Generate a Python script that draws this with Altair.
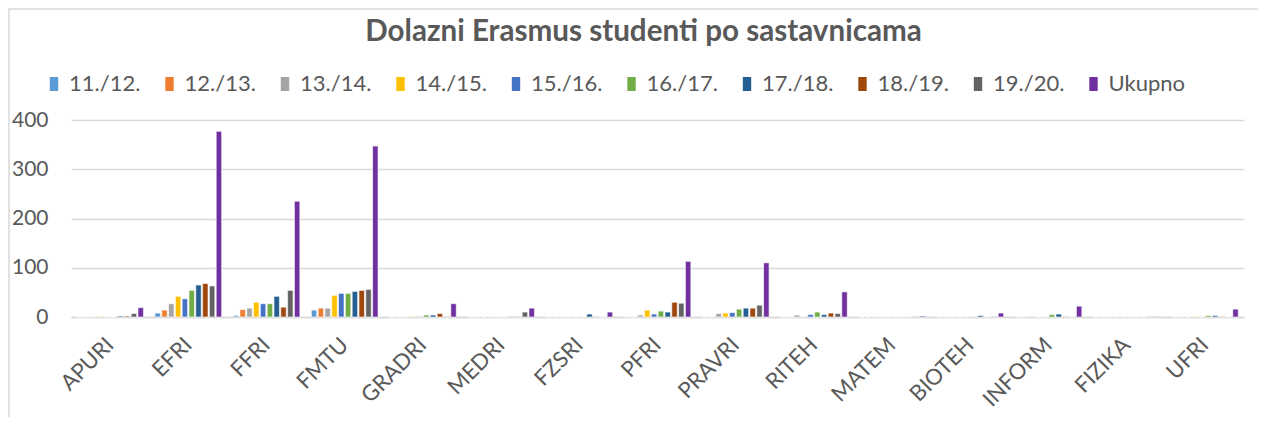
import altair as alt
import pandas as pd

categories = ["APURI", "EFRI", "FFRI", "FMTU", "GRADRI", "MEDRI", "FZSRI", "PFRI",
              "PRAVRI", "RITEH", "MATEM", "BIOTEH", "INFORM", "FIZIKA", "UFRI"]
series_names = ["11./12.", "12./13.", "13./14.", "14./15.", "15./16.", "16./17.",
                "17./18.", "18./19.", "19./20.", "Ukupno"]
colors = ["#5B9BD5", "#ED7D31", "#A5A5A5", "#FFC000", "#4472C4", "#70AD47",
          "#255E91", "#9E480E", "#636363", "#7030A0"]

s_1112 = [0, 8, 3, 14, 0, 0, 0, 0, 0, 0, 0, 0, 0, 0, 0]
s_1213 = [0, 14, 15, 18, 0, 0, 0, 0, 0, 0, 0, 0, 0, 0, 0]
s_1314 = [0, 27, 18, 18, 0, 0, 0, 4, 7, 4, 0, 0, 1, 0, 0]
s_1415 = [1, 42, 30, 44, 1, 0, 0, 14, 8, 1, 0, 0, 0, 0, 1]
s_1516 = [0, 37, 27, 48, 1, 0, 0, 6, 9, 5, 0, 0, 0, 0, 0]
s_1617 = [0, 54, 27, 48, 4, 0, 0, 12, 16, 10, 0, 1, 5, 0, 3]
s_1718 = [2, 65, 42, 52, 4, 1, 6, 10, 18, 5, 0, 3, 6, 0, 3]
s_1819 = [2, 68, 20, 54, 7, 1, 1, 30, 18, 8, 0, 0, 1, 0, 1]
s_1920 = [7, 63, 54, 56, 1, 10, 0, 28, 24, 7, 1, 1, 0, 1, 0]
ukupno = [19, 377, 235, 347, 27, 18, 10, 113, 110, 51, 2, 8, 22, 1, 16]

all_series = [s_1112, s_1213, s_1314, s_1415, s_1516, s_1617, s_1718, s_1819, s_1920, ukupno]

rows = []
for name, vals in zip(series_names, all_series):
    for c, v in zip(categories, vals):
        rows.append({"Sastavnica": c, "Godina": name, "Broj": v})
df = pd.DataFrame(rows)

FONT = "Lato"
GREY = "#595959"

bars = alt.Chart(df).mark_bar(stroke="white", strokeWidth=0.6).encode(
    x=alt.X("Sastavnica:N", sort=categories, title=None,
            scale=alt.Scale(paddingInner=0.147, paddingOuter=0.0735),
            axis=alt.Axis(labelAngle=-45, labelFontSize=22, labelColor=GREY,
                          labelFont=FONT, ticks=False, domain=True,
                          domainColor="#d9d9d9", domainWidth=1.5,
                          labelPadding=24, labelAlign="right", labelBaseline="middle")),
    xOffset=alt.XOffset("Godina:N", sort=series_names,
                        scale=alt.Scale(paddingInner=0.2, paddingOuter=0)),
    y=alt.Y("Broj:Q", title=None,
            scale=alt.Scale(domain=[0, 400]),
            axis=alt.Axis(values=[0, 100, 200, 300, 400], labelFontSize=21,
                          labelColor=GREY, labelFont=FONT, ticks=False,
                          domain=False, gridColor="#d9d9d9", gridWidth=1.3,
                          labelPadding=23)),
    color=alt.Color("Godina:N", sort=series_names,
                    scale=alt.Scale(domain=series_names, range=colors),
                    legend=alt.Legend(title=None, orient="none", legendX=-28, legendY=-47,
                                      direction="horizontal", columns=10, gridAlign="all",
                                      symbolType="M-0.6,-1L0.6,-1L0.6,1L-0.6,1Z",
                                      symbolSize=196, symbolStrokeWidth=0,
                                      labelFontSize=22, labelColor=GREY, labelFont=FONT,
                                      labelOffset=4, columnPadding=12.5)),
)

border = alt.Chart(alt.Data(values=[{}])).mark_rect(
    filled=False, stroke="#d9d9d9", strokeWidth=1.5
).encode(
    x=alt.value(-62), x2=alt.value(1189), y=alt.value(-111), y2=alt.value(320)
)

chart = alt.layer(border, bars).properties(
    width=1173,
    height=197,
    autosize=alt.AutoSizeParams(type="none"),
    padding={"left": 63, "top": 112, "right": 14, "bottom": 100},
    title=alt.Title("Dolazni Erasmus studenti po sastavnicama", fontSize=29.6,
                    font=FONT, fontWeight="bold", color=GREY, anchor="middle",
                    offset=-39, dx=-14),
).configure_view(stroke=None)

chart.save("out.html", embed_options={"renderer": "svg", "actions": False})
